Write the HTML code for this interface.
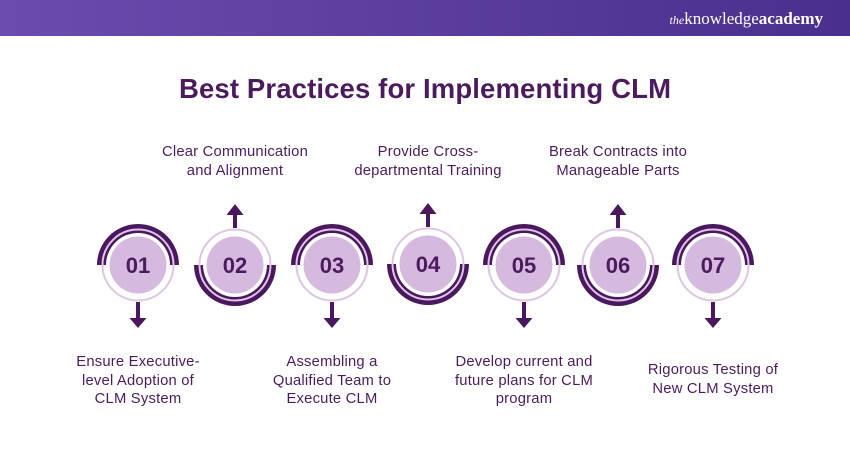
<!DOCTYPE html>
<html><head><meta charset="utf-8"><style>
body{margin:0;width:850px;height:450px;overflow:hidden;background:#fff;}
svg{display:block}
text{font-family:"Liberation Sans",sans-serif;fill:#4b1b5e}
</style></head><body>
<svg width="850" height="450" viewBox="0 0 850 450">
<defs>
<linearGradient id="g" x1="0" x2="1" y1="0" y2="0">
<stop offset="0" stop-color="#6b4cae"/><stop offset="1" stop-color="#4a2f8c"/>
</linearGradient>
<g id="top">
<path d="M-41,0 A41,41 0 0 1 41,0 L32,0 A32,32 0 0 0 -32,0 Z" fill="#4b175e"/>
<circle r="35.5" fill="none" stroke="#dcc6e3" stroke-width="2"/>
<circle r="28.5" fill="#d5b9de"/>
</g>
<g id="bot">
<path d="M-41,0 A41,41 0 0 0 41,0 L32,0 A32,32 0 0 1 -32,0 Z" fill="#4b175e"/>
<circle r="35.5" fill="none" stroke="#dcc6e3" stroke-width="2"/>
<circle r="28.5" fill="#d5b9de"/>
</g>
<g id="down"><rect x="-2" y="37" width="4" height="17" fill="#4b175e"/><path d="M-8.5,53 L8.5,53 L0,63 Z" fill="#4b175e"/></g>
<g id="up"><rect x="-2" y="-54" width="4" height="17" fill="#4b175e"/><path d="M-8.5,-50 L8.5,-50 L0,-61 Z" fill="#4b175e"/></g>
</defs>
<rect width="850" height="36" fill="url(#g)"/>
<text x="823" y="24" text-anchor="end" style="font-family:'Liberation Serif',serif;fill:#fff;font-size:17px"><tspan font-style="italic" font-size="12">the</tspan>knowledge<tspan font-weight="bold">academy</tspan></text>
<text x="425" y="98" text-anchor="middle" font-size="27.5" font-weight="bold" textLength="492">Best Practices for Implementing CLM</text>

<g font-size="22" font-weight="bold" text-anchor="middle">
<g transform="translate(138,265)"><use href="#top"/><use href="#down"/><text y="8">01</text></g>
<g transform="translate(235,265)"><use href="#bot"/><use href="#up"/><text y="8">02</text></g>
<g transform="translate(332,265)"><use href="#top"/><use href="#down"/><text y="8">03</text></g>
<g transform="translate(428,264)"><use href="#bot"/><use href="#up"/><text y="8">04</text></g>
<g transform="translate(524,265)"><use href="#top"/><use href="#down"/><text y="8">05</text></g>
<g transform="translate(618,265)"><use href="#bot"/><use href="#up"/><text y="8">06</text></g>
<g transform="translate(713,265)"><use href="#top"/><use href="#down"/><text y="8">07</text></g>
</g>

<g font-size="14.8" text-anchor="middle" letter-spacing="0.2">
<text x="235" y="156">Clear Communication</text><text x="235" y="175">and Alignment</text>
<text x="428" y="156">Provide Cross-</text><text x="428" y="175">departmental Training</text>
<text x="618" y="156">Break Contracts into</text><text x="618" y="175">Manageable Parts</text>
<text x="138" y="366">Ensure Executive-</text><text x="138" y="385">level Adoption of</text><text x="138" y="403">CLM System</text>
<text x="332" y="366">Assembling a</text><text x="332" y="385">Qualified Team to</text><text x="332" y="403">Execute CLM</text>
<text x="524" y="366">Develop current and</text><text x="524" y="385">future plans for CLM</text><text x="524" y="403">program</text>
<text x="713" y="374">Rigorous Testing of</text><text x="713" y="393">New CLM System</text>
</g>
</svg>
</body></html>
